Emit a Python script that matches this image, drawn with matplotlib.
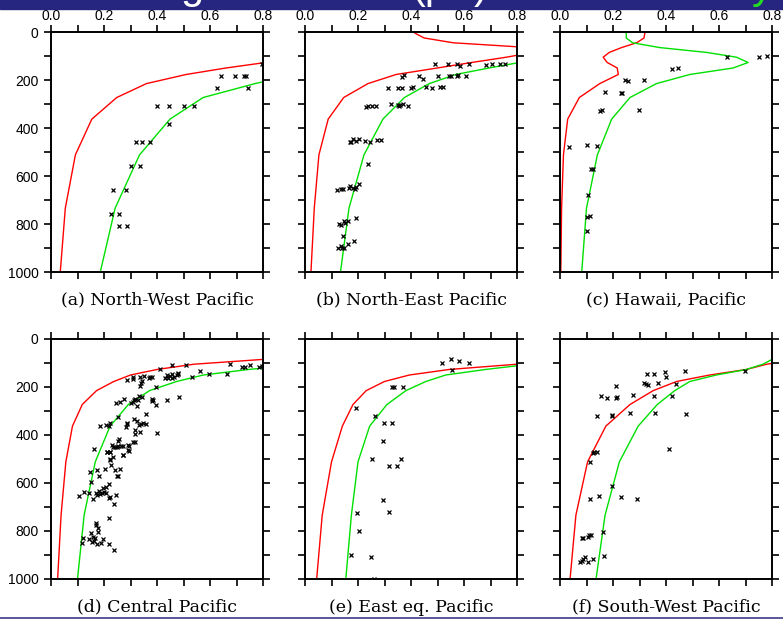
import matplotlib.pyplot as plt
from matplotlib.patches import Rectangle
from matplotlib.lines import Line2D

plt.rcParams['font.family'] = ['Liberation Sans', 'DejaVu Sans']

# model levels (deep -> shallow), shared by all profiles
LEV = [1000, 734, 512, 363, 273, 215, 177, 150, 127, 105, 85, 65, 45, 25, 5]

titles = ["(a) North-West Pacific", "(b) North-East Pacific", "(c) Hawaii, Pacific",
          "(d) Central Pacific", "(e) East eq. Pacific", "(f) South-West Pacific"]

# red / green model profiles (values past 0.8 are clipped by the axes)
red_a = [0.035, 0.054, 0.092, 0.154, 0.248, 0.36, 0.51, 0.66, 0.81, 1.0]
green_a = [0.186, 0.242, 0.334, 0.449, 0.574, 0.77, 0.92, 1.05]
red_b = [0.0225, 0.035, 0.0525, 0.0875, 0.146, 0.2375, 0.344, 0.499, 0.629, 0.76, 0.86, 0.85, 0.56, 0.45, 0.415]
green_b = [0.134, 0.166, 0.2225, 0.294, 0.375, 0.469, 0.569, 0.694, 0.81, 0.95]
red_c = [0.003, 0.006, 0.013, 0.029, 0.073, 0.15, 0.22, 0.216, 0.178, 0.163, 0.186, 0.232, 0.289, 0.317, 0.32]
green_c = [0.082, 0.1, 0.141, 0.195, 0.264, 0.364, 0.49, 0.653, 0.71, 0.666, 0.553, 0.377, 0.274, 0.25, 0.25]
red_d = [0.025, 0.038, 0.056, 0.081, 0.118, 0.172, 0.237, 0.30, 0.40, 0.54, 0.80, 1.1]
green_d = [0.1, 0.125, 0.167, 0.223, 0.292, 0.372, 0.474, 0.575, 0.745, 0.95]
red_e = [0.044, 0.065, 0.1, 0.141, 0.181, 0.231, 0.3, 0.394, 0.544, 0.80, 1.1]
green_e = [0.154, 0.175, 0.2, 0.244, 0.309, 0.381, 0.456, 0.531, 0.681, 0.85, 1.1]
red_f = [0.038, 0.06, 0.104, 0.173, 0.264, 0.352, 0.44, 0.565, 0.703, 0.78, 0.9]
green_f = [0.136, 0.17, 0.224, 0.295, 0.367, 0.433, 0.49, 0.59, 0.703, 0.766, 0.80, 0.9]

# observations
obs_a_x = [0.643, 0.695, 0.729, 0.737, 0.628, 0.744, 0.797, 0.399, 0.444, 0.502, 0.539, 0.446,
           0.321, 0.342, 0.374, 0.301, 0.336, 0.233, 0.283, 0.226, 0.256, 0.258, 0.288]
obs_a_y = [184, 184, 184, 184, 234, 234, 132, 309, 309, 309, 309, 385,
           458, 458, 458, 558, 558, 659, 659, 759, 759, 809, 809]

obs_b_x = [0.49, 0.54, 0.5725, 0.585, 0.619, 0.684, 0.704, 0.734, 0.754,
           0.366, 0.375, 0.429, 0.444, 0.5025, 0.544, 0.55, 0.5725, 0.579, 0.606,
           0.3125, 0.35, 0.365, 0.4, 0.409, 0.456, 0.4775, 0.51, 0.519,
           0.231, 0.236, 0.2525, 0.269, 0.325, 0.35, 0.354, 0.359, 0.369, 0.3875,
           0.169, 0.175, 0.181, 0.194, 0.204, 0.225, 0.244, 0.271, 0.285, 0.2375,
           0.121, 0.1375, 0.144, 0.165, 0.169, 0.181, 0.1875, 0.191, 0.204,
           0.129, 0.1375, 0.146, 0.151, 0.1625, 0.191, 0.144,
           0.125, 0.134, 0.141, 0.149, 0.161, 0.184]
obs_b_y = [134, 134, 134, 143, 132, 136, 132, 134, 134,
           187, 180, 183, 194, 183, 183, 183, 184, 180, 183,
           235, 235, 233, 233, 230, 229, 233, 231, 231,
           313, 310, 309, 309, 302, 303, 307, 306, 302, 307,
           457, 457, 445, 454, 447, 456, 460, 449, 452, 551,
           658, 654, 654, 651, 641, 648, 655, 644, 633,
           799, 803, 789, 796, 788, 776, 849,
           902, 893, 902, 902, 885, 870]

obs_c_x = [0.630, 0.750, 0.781, 0.421, 0.446, 0.246, 0.256, 0.318, 0.168, 0.232, 0.235, 0.151,
           0.159, 0.298, 0.034, 0.103, 0.141, 0.117, 0.126, 0.107, 0.100, 0.112, 0.100]
obs_c_y = [104, 104, 101, 155, 152, 202, 205, 202, 252, 253, 255, 330,
           325, 324, 479, 472, 474, 572, 571, 679, 769, 767, 830]

obs_d_x = [0.411, 0.458, 0.511, 0.675, 0.720, 0.733, 0.751, 0.785, 0.798,
           0.562, 0.596, 0.665, 0.531, 0.481, 0.474, 0.478, 0.457, 0.449, 0.437, 0.430, 0.440,
           0.458, 0.465, 0.371, 0.382, 0.374, 0.352, 0.336, 0.308, 0.308, 0.288, 0.342, 0.338,
           0.335, 0.398, 0.483, 0.437, 0.382, 0.385, 0.381, 0.395, 0.342, 0.333, 0.330, 0.317,
           0.315, 0.308, 0.301, 0.326, 0.262, 0.244, 0.277, 0.359, 0.312, 0.254, 0.325, 0.348,
           0.360, 0.340, 0.332, 0.288, 0.282, 0.286, 0.185, 0.209, 0.224, 0.218, 0.401, 0.318,
           0.316, 0.336, 0.258, 0.252, 0.243, 0.231, 0.235, 0.248, 0.254, 0.265, 0.270, 0.291,
           0.293, 0.309, 0.317, 0.291, 0.164, 0.213, 0.224, 0.270, 0.223,
           0.210, 0.223, 0.234, 0.223, 0.228, 0.270, 0.293, 0.172, 0.243, 0.262, 0.205, 0.180,
           0.248, 0.253, 0.148, 0.152, 0.218, 0.206, 0.195, 0.125, 0.143, 0.171, 0.180, 0.174,
           0.194, 0.201, 0.207, 0.184, 0.104, 0.160, 0.218, 0.223, 0.247, 0.239, 0.219, 0.169,
           0.169, 0.176, 0.176, 0.152, 0.120, 0.118, 0.142, 0.160, 0.167, 0.161, 0.156, 0.175,
           0.187, 0.198, 0.220, 0.238]
obs_d_y = [124, 110, 110, 106, 118, 118, 110, 115, 112,
           135, 144, 146, 160, 144, 150, 140, 144, 154, 150, 161, 161,
           161, 157, 164, 158, 157, 156, 158, 157, 167, 169, 176, 183,
           196, 199, 240, 256, 250, 256, 260, 275, 240, 238, 254, 250,
           256, 263, 268, 279, 261, 265, 249, 311, 332, 325, 343, 351,
           356, 353, 360, 351, 365, 356, 361, 358, 350, 363, 393, 379,
           396, 386, 418, 424, 451, 443, 450, 450, 447, 447, 446, 443,
           447, 431, 431, 464, 460, 471, 471, 483, 500,
           472, 472, 490, 504, 525, 483, 465, 546, 546, 543, 542, 569,
           569, 571, 556, 596, 606, 618, 622, 637, 642, 640, 635, 650,
           643, 639, 643, 647, 654, 668, 664, 657, 651, 686, 744, 765,
           775, 789, 806, 810, 831, 849, 835, 826, 831, 840, 847, 854,
           849, 835, 853, 881]

obs_e_x = [0.516, 0.55, 0.581, 0.62, 0.556, 0.3275, 0.335, 0.369, 0.1925, 0.266, 0.2975, 0.3275,
           0.294, 0.2525, 0.3625, 0.316, 0.346, 0.294, 0.195, 0.316, 0.204, 0.174, 0.2475, 0.26]
obs_e_y = [99, 82, 90, 101, 129, 199, 199, 199, 289, 319, 350, 350,
           425, 500, 500, 529, 529, 672, 725, 721, 800, 900, 910, 999]

obs_f_x = [0.329, 0.354, 0.398, 0.399, 0.472, 0.698, 0.316, 0.324, 0.333, 0.370, 0.437, 0.211,
           0.156, 0.178, 0.210, 0.214, 0.274, 0.354, 0.421, 0.141, 0.195, 0.197, 0.264, 0.359,
           0.477, 0.123, 0.128, 0.141, 0.113, 0.412, 0.195, 0.147, 0.229, 0.114, 0.291, 0.162,
           0.082, 0.088, 0.104, 0.111, 0.117, 0.095, 0.075, 0.082, 0.088, 0.107, 0.124, 0.166]
obs_f_y = [144, 144, 139, 160, 135, 132, 185, 189, 192, 183, 186, 196,
           236, 247, 246, 242, 233, 236, 236, 322, 321, 318, 307, 310,
           311, 474, 471, 469, 514, 458, 613, 656, 657, 667, 665, 806,
           828, 828, 824, 817, 817, 907, 928, 925, 918, 928, 917, 906]

reds = [red_a, red_b, red_c, red_d, red_e, red_f]
greens = [green_a, green_b, green_c, green_d, green_e, green_f]
obs_x = [obs_a_x, obs_b_x, obs_c_x, obs_d_x, obs_e_x, obs_f_x]
obs_y = [obs_a_y, obs_b_y, obs_c_y, obs_d_y, obs_e_y, obs_f_y]

W, H = 783, 619
fig = plt.figure(figsize=(W / 100, H / 100), dpi=100)

# title banner cut off at the top of the slide (only descenders show)
fig.patches.append(Rectangle((0, 1 - 9 / H), 1, 9 / H, transform=fig.transFigure,
                             color='#262680', zorder=0))
for s, xp, c in [("g", 180, 'white'), ("(p", 411, 'white'), (")", 474, 'white'), ("y", 752, '#22dd22')]:
    fig.text(xp / W, 1 + 1.5 / H, s, color=c, fontsize=30, va='baseline', ha='left')
fig.add_artist(Line2D([0, 1], [1.2 / H, 1.2 / H], transform=fig.transFigure,
                      color='#3a3a8a', lw=1.2))

lefts = [51, 305, 560]
tops = [32, 339]
xt = [i / 10 for i in range(9)]
yt = list(range(0, 1001, 100))

for i in range(6):
    r, c = divmod(i, 3)
    ax = fig.add_axes([lefts[c] / W, 1 - (tops[r] + 240) / H, 212 / W, 240 / H])
    ax.plot(reds[i], LEV[:len(reds[i])], color='#ff0000', lw=1.0)
    ax.plot(greens[i], LEV[:len(greens[i])], color='#00e000', lw=1.0)
    ax.plot(obs_x[i], obs_y[i], 'x', color='k', ms=2.6, mew=0.9)
    ax.set_xlim(0, 0.8)
    ax.set_ylim(1000, 0)
    ax.set_xticks(xt, ["%.1f" % v if k % 2 == 0 else "" for k, v in enumerate(xt)])
    ax.set_yticks(yt, [str(v) if k % 2 == 0 else "" for k, v in enumerate(yt)])
    ax.tick_params(direction='out', length=5, width=1.2, labelsize=10,
                   top=True, right=True, bottom=True, left=True,
                   labeltop=(r == 0), labelbottom=False, labelleft=(c == 0))
    ax.tick_params(axis='x', pad=1.5)
    ax.tick_params(axis='y', pad=4)
    for sp in ax.spines.values():
        sp.set_linewidth(1.4)
    ax.text(0.5, -28 / 240, titles[i], transform=ax.transAxes, ha='center', va='center',
            fontfamily='DejaVu Serif', fontsize=12.5)

fig.savefig('out.png', dpi=100)
